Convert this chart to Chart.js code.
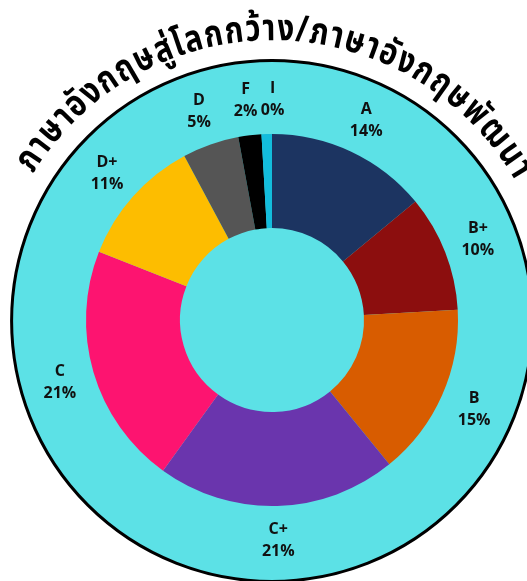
<!DOCTYPE html>
<html><head><meta charset="utf-8">
<script src="https://cdn.jsdelivr.net/npm/chart.js@4.4.0/dist/chart.umd.min.js"></script>
<style>html,body{margin:0;padding:0;background:#fff}canvas{display:block}</style>
</head><body>
<canvas id="c" width="527" height="581"></canvas>
<script>
const titleText = "ภาษาอังกฤษสู่โลกกว้าง/ภาษาอังกฤษพัฒนา";
const grades = ["A", "B+", "B", "C+", "C", "D+", "D", "F", "I"];
const values = [14.0, 10.1, 15.0, 20.8, 21.0, 11.2, 4.9, 2.0, 0.9];
const percentLabels = ["14%", "10%", "15%", "21%", "21%", "11%", "5%", "2%", "0%"];
const sliceColors = ["#1C3461", "#8C0E0E", "#D85C00", "#6A35AD", "#FD1470", "#FDBD00", "#555555", "#000000", "#13BCDC"];

const bgCircle = {
  id: 'bgCircle',
  beforeDatasetsDraw(chart) {
    const arc = chart.getDatasetMeta(0).data[0];
    const ctx = chart.ctx;
    const R = arc.outerRadius * 1.4;
    ctx.save();
    ctx.beginPath();
    ctx.arc(arc.x, arc.y + 1, R, 0, Math.PI * 2);
    ctx.fillStyle = '#5CE1E6';
    ctx.fill();
    ctx.lineWidth = 3;
    ctx.strokeStyle = '#000';
    ctx.stroke();
    ctx.restore();
  }
};

const curvedTitle = {
  id: 'curvedTitle',
  afterDraw(chart) {
    const arc = chart.getDatasetMeta(0).data[0];
    const ctx = chart.ctx;
    const cx = arc.x, cy = arc.y + 1;
    const R = arc.outerRadius * 1.51;
    const a0 = -58.5 * Math.PI / 180, a1 = 60 * Math.PI / 180;
    const squeeze = 0.8;
    const clusters = titleText.match(/.[\u0E31\u0E34-\u0E3A\u0E47-\u0E4E]*/gu);
    ctx.save();
    ctx.font = "bold 37px 'Noto Sans Thai', 'Noto Sans', sans-serif";
    ctx.fillStyle = '#000';
    ctx.textAlign = 'center';
    ctx.textBaseline = 'alphabetic';
    const widths = clusters.map(c => ctx.measureText(c).width);
    const total = widths.reduce((a, b) => a + b, 0);
    const k = (a1 - a0) * R / total;
    let acc = 0;
    clusters.forEach((c, i) => {
      const ang = a0 + (acc + widths[i] / 2) * k / R;
      acc += widths[i];
      ctx.save();
      ctx.translate(cx, cy);
      ctx.rotate(ang);
      ctx.translate(0, -R);
      ctx.scale(squeeze, 1);
      ctx.fillText(c, 0, 0);
      ctx.restore();
    });
    ctx.restore();
  }
};

const sliceLabels = {
  id: 'sliceLabels',
  afterDatasetsDraw(chart) {
    const meta = chart.getDatasetMeta(0);
    const ctx = chart.ctx;
    ctx.save();
    ctx.font = "bold 16px 'Open Sans', sans-serif";
    ctx.fillStyle = '#111';
    ctx.textAlign = 'center';
    ctx.textBaseline = 'middle';
    let prev = null;
    meta.data.forEach((a, i) => {
      const mid = (a.startAngle + a.endAngle) / 2;
      const r = a.outerRadius + 35;
      let x = a.x + Math.cos(mid) * r;
      const y = a.y + Math.sin(mid) * r;
      if (prev && Math.abs(prev.y - y) < 20 && x - prev.x < 27 && x >= prev.x - 5) {
        x = prev.x + 27;
      }
      ctx.fillText(grades[i], x, y - 11);
      ctx.fillText(percentLabels[i], x, y + 11);
      prev = { x, y };
    });
    ctx.restore();
  }
};

new Chart(document.getElementById('c'), {
  type: 'doughnut',
  data: {
    labels: grades,
    datasets: [{
      data: values,
      backgroundColor: sliceColors,
      borderWidth: 0,
      hoverOffset: 0
    }]
  },
  options: {
    responsive: false,
    animation: false,
    devicePixelRatio: 1,
    radius: 186,
    cutout: 92,
    layout: { padding: { left: 86, right: 69, top: 134, bottom: 75 } },
    plugins: { legend: { display: false }, tooltip: { enabled: false }, title: { display: false } }
  },
  plugins: [bgCircle, sliceLabels, curvedTitle]
});
</script>
</body></html>
